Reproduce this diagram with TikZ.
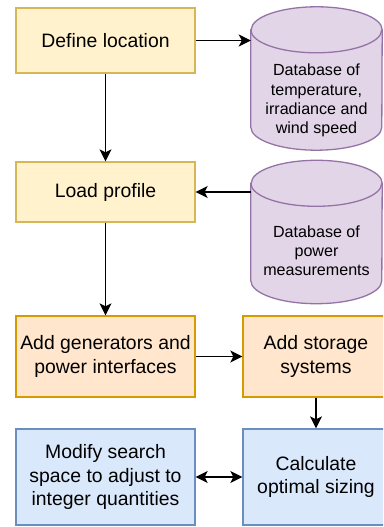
\documentclass[tikz,border=0pt]{standalone}
\usepackage{fontspec}
\setmainfont{Liberation Sans}
\usetikzlibrary{arrows.meta,calc}
\definecolor{yfill}{HTML}{FFF2CC}\definecolor{ydraw}{HTML}{D6B656}
\definecolor{ofill}{HTML}{FFE6CC}\definecolor{odraw}{HTML}{D79B00}
\definecolor{bfill}{HTML}{DAE8FC}\definecolor{bdraw}{HTML}{6C8EBF}
\definecolor{pfill}{HTML}{E1D5E7}\definecolor{pdraw}{HTML}{9673A6}
\tikzset{
  boxbase/.style={rectangle, draw, line width=1.3pt, inner sep=2pt, align=center,
    font=\fontsize{19.4}{23.3}\selectfont},
  ybox/.style={boxbase, fill=yfill, draw=ydraw},
  obox/.style={boxbase, fill=ofill, draw=odraw},
  bbox/.style={boxbase, fill=bfill, draw=bdraw},
  dbtext/.style={align=center, inner sep=0pt, font=\fontsize{16.1}{19.2}\selectfont},
  cylholder/.style={rectangle, inner sep=0pt, minimum width=131pt, minimum height=143pt},
  cylshape/.style={fill=pfill, draw=pdraw, line width=1.3pt},
  thick arrow/.style={line width=1.9pt, -{Stealth[length=12pt,width=12pt,inset=3pt]}},
  thin arrow/.style={line width=1.1pt, -{Stealth[length=12pt,width=12pt,inset=3pt]}},
  dbl arrow/.style={line width=1.9pt, {Stealth[length=12pt,width=12pt,inset=3pt]}-{Stealth[length=12pt,width=12pt,inset=3pt]}},
}
\begin{document}
\begin{tikzpicture}[x=1pt,y=1pt]
\useasboundingbox (0,0) rectangle (383,527);
\clip (0,0) rectangle (383,527);
% boxes
\node[ybox, minimum width=179pt, minimum height=65pt] (b1) at (105.5,486.5) {Define location};
\node[ybox, minimum width=179pt, minimum height=60pt] (b2) at (105.5,335) {Load profile};
\node[obox, minimum width=179pt, minimum height=81pt] (b3) at (105.5,170.5) {Add generators and\\power interfaces};
\node[obox, minimum width=146pt, minimum height=81pt] (b4) at (316,170.5) {Add storage\\systems};
\node[bbox, minimum width=146pt, minimum height=96pt] (b5) at (316,50) {Calculate\\optimal sizing};
\node[bbox, minimum width=179pt, minimum height=96pt] (b6) at (105.5,50) {Modify search\\space to adjust to\\integer quantities};
% cylinders
\node[cylholder] (c1) at (316.5,448.5) {};
\node[cylholder] (c2) at (316.5,295) {};
\foreach \c in {c1,c2}{
  \path[cylshape] ($(\c.north west)+(0,-23)$) -- ($(\c.south west)+(0,23)$)
    arc[start angle=180, end angle=360, x radius=65.5, y radius=23]
    -- ($(\c.north east)+(0,-23)$)
    arc[start angle=0, end angle=180, x radius=65.5, y radius=23] -- cycle;
  \draw[pdraw, line width=1.3pt] ($(\c.north west)+(0,-23)$)
    arc[start angle=180, end angle=360, x radius=65.5, y radius=23];
}
\node[dbtext] (t1) at (316.5,426.5) {Database of\\temperature,\\irradiance and\\wind speed};
\node[dbtext] (t2) at (316.5,276) {Database of\\power\\measurements};
% connectors
\draw[thick arrow] (b1.east) -- (b1.east -| c1.west);
\draw[thick arrow] (b2.east -| c2.west) -- (b2.east);
\draw[thin arrow] (b1.south) -- (b2.north);
\draw[thin arrow] (b2.south) -- (b3.north);
\draw[thick arrow] (b3.east) -- (b4.west);
\draw[thin arrow] (b4.south) -- (b5.north);
\draw[dbl arrow] (b6.east) -- (b5.west);
\end{tikzpicture}
\end{document}
